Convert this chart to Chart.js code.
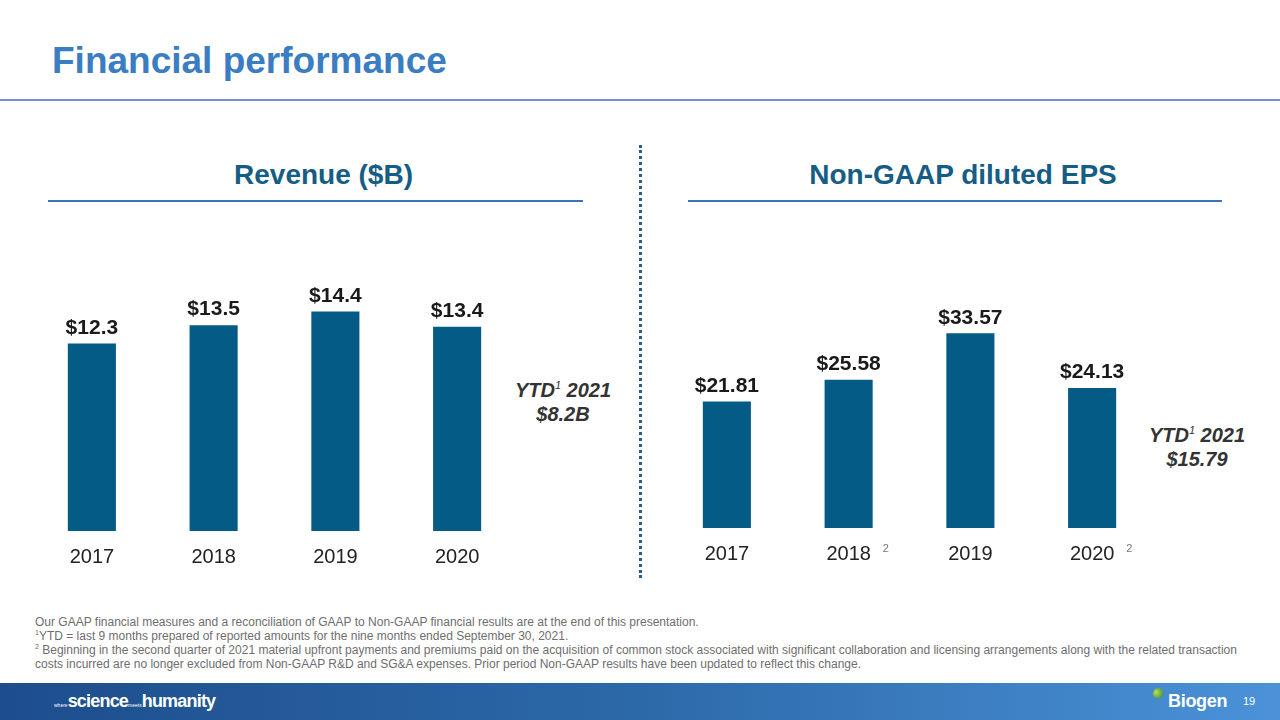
<!DOCTYPE html>
<html>
<head>
<meta charset="utf-8">
<script src="https://cdn.jsdelivr.net/npm/chart.js@4.4.1/dist/chart.umd.min.js"></script>
<style>
  body { margin: 0; width: 1280px; height: 720px; position: relative; overflow: hidden; background: #fff; font-family: "Liberation Sans", Arial, sans-serif; }
  .abs { position: absolute; }
  #title { left: 52px; top: 40px; font-size: 37px; font-weight: bold; color: #3a7dc2; }
  #titleLine { left: 0; top: 99px; width: 1280px; height: 2px; background: #7592c8; }
  .sect { font-size: 28px; font-weight: bold; color: #155d85; text-align: center; }
  .sectLine { height: 2px; background: #3a74b8; }
  #divider { left: 639px; top: 145px; height: 433px; border-left: 3px dotted #2a5d8f; }
  .ytd { font-size: 20px; font-weight: bold; font-style: italic; color: #333; text-align: center; line-height: 24px; }
  .ytd sup { font-size: 11px; font-weight: normal; }
  #notes { left: 35px; top: 615px; font-size: 12px; color: #6e6e6e; line-height: 14px; width: 1212px; }
  #notes sup { font-size: 7px; line-height: 0; }
  #footer { left: 0; top: 683px; width: 1280px; height: 37px; background: linear-gradient(90deg, #1d4d8c 0%, #2c69a9 50%, #4b92d8 100%); }
  #slogan { left: 54px; top: 691px; color: #fff; font-weight: bold; font-size: 18px; letter-spacing: -0.8px; }
  #slogan small { font-size: 5px; font-weight: normal; letter-spacing: 0; }
  #logoMark { left: 1153px; top: 688px; width: 11px; height: 11px; border-radius: 50%; background: radial-gradient(circle at 30% 40%, #c8e04a 0%, #6bb048 45%, #2d6fb0 100%); }
  #biogen { left: 1168px; top: 691px; color: #fff; font-size: 18px; font-weight: bold; letter-spacing: -0.3px; }
  #page { left: 1243px; top: 695px; color: #fff; font-size: 11px; }
  canvas { position: absolute; }
</style>
</head>
<body>
<div class="abs" id="title">Financial performance</div>
<div class="abs" id="titleLine"></div>

<div class="abs sect" style="left:56px; top:159px; width:535px;">Revenue ($B)</div>
<div class="abs sectLine" style="left:48px; top:200px; width:535px;"></div>
<div class="abs sect" style="left:696px; top:159px; width:534px;">Non-GAAP diluted EPS</div>
<div class="abs sectLine" style="left:688px; top:200px; width:534px;"></div>

<div class="abs" id="divider"></div>

<div class="abs ytd" style="left:493px; top:373px; width:140px;">YTD<sup>1</sup> 2021<br>$8.2B</div>
<div class="abs ytd" style="left:1127px; top:418px; width:140px;">YTD<sup>1</sup> 2021<br>$15.79</div>

<canvas id="revChart" class="abs" style="left:0; top:230px;" width="560" height="365"></canvas>
<canvas id="epsChart" class="abs" style="left:640px; top:230px;" width="640" height="365"></canvas>

<div class="abs" id="notes">
Our GAAP financial measures and a reconciliation of GAAP to Non-GAAP financial results are at the end of this presentation.<br>
<sup>1</sup>YTD = last 9 months prepared of reported amounts for the nine months ended September 30, 2021.<br>
<sup>2</sup> Beginning in the second quarter of 2021 material upfront payments and premiums paid on the acquisition of common stock associated with significant collaboration and licensing arrangements along with the related transaction costs incurred are no longer excluded from Non-GAAP R&amp;D and SG&amp;A expenses. Prior period Non-GAAP results have been updated to reflect this change.
</div>

<div class="abs" id="footer"></div>
<div class="abs" id="slogan"><small>where</small>science<small>meets</small>humanity</div>
<div class="abs" id="logoMark"></div>
<div class="abs" id="biogen">Biogen</div>
<div class="abs" id="page">19</div>

<script>
const years = ["2017", "2018", "2019", "2020"];
const revenue = [12.3, 13.5, 14.4, 13.4];
const eps = [21.81, 25.58, 33.57, 24.13];
const epsNotes = ["", "2", "", "2"];

const barColor = "#045b85";
const fontFamily = '"Liberation Sans", Arial, sans-serif';

// value labels above each bar
const valueLabels = {
  id: "valueLabels",
  afterDatasetsDraw(chart, args, opts) {
    const ctx = chart.ctx;
    const meta = chart.getDatasetMeta(0);
    ctx.save();
    ctx.font = "bold 21px " + fontFamily;
    ctx.fillStyle = "#1a1a1a";
    ctx.textAlign = "center";
    ctx.textBaseline = "bottom";
    meta.data.forEach((bar, i) => {
      const v = chart.data.datasets[0].data[i];
      ctx.fillText("$" + v.toFixed(opts.digits), bar.x, bar.y - 5);
    });
    // footnote marks next to the year labels
    if (opts.notes) {
      const xs = chart.scales.x;
      ctx.font = "11px " + fontFamily;
      ctx.fillStyle = "#777";
      ctx.textAlign = "left";
      ctx.textBaseline = "top";
      opts.notes.forEach((n, i) => {
        if (n) ctx.fillText(n, xs.getPixelForTick(i) + 34, xs.top + 15);
      });
    }
    ctx.restore();
  }
};

function makeChart(id, values, yMax, pad, digits, notes) {
  return new Chart(document.getElementById(id), {
    type: "bar",
    data: {
      labels: years,
      datasets: [{
        data: values,
        backgroundColor: barColor,
        categoryPercentage: 1,
        barPercentage: 0.395
      }]
    },
    options: {
      responsive: false,
      animation: false,
      layout: { padding: pad },
      plugins: {
        legend: { display: false },
        tooltip: { enabled: false },
        valueLabels: { digits: digits, notes: notes }
      },
      scales: {
        y: { display: false, min: 0, max: yMax },
        x: {
          grid: { display: false, drawTicks: false },
          border: { display: false },
          ticks: { color: "#222", font: { size: 20, family: fontFamily }, padding: 14 }
        }
      }
    },
    plugins: [valueLabels]
  });
}

makeChart("revChart", revenue, 19.74, { left: 31, right: 42, top: 0, bottom: 12 }, 1, null);
makeChart("epsChart", eps, 51.4, { left: 26, right: 127, top: 0, bottom: 15 }, 2, epsNotes);
</script>
</body>
</html>
